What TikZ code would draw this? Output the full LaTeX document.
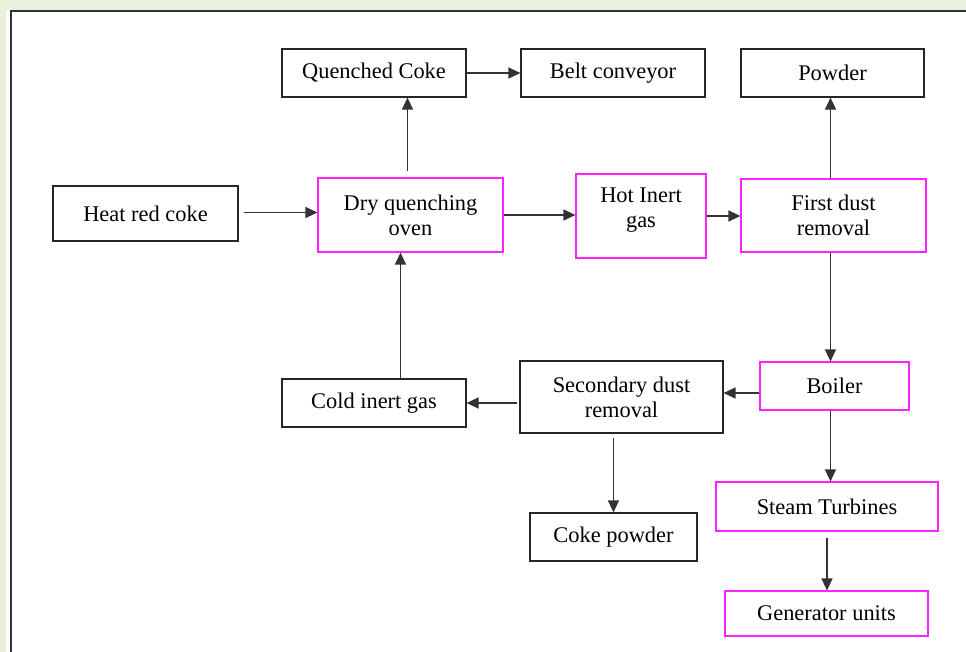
\documentclass[tikz,border=0pt]{standalone}
\usepackage{fontspec}
\setmainfont{Liberation Serif}
\usepackage{xcolor}
\usetikzlibrary{arrows.meta,positioning}
\definecolor{pagegreen}{HTML}{E9F1DC}
\definecolor{boxmagenta}{HTML}{FF22FF}
\definecolor{linegray}{HTML}{333333}

\begin{document}
\begin{tikzpicture}[x=0.5pt,y=-0.5pt,
    plainbox/.style={draw=black!85, line width=0.6pt, inner sep=0pt, align=center,
        font=\fontsize{11.2}{12.5}\selectfont},
    magbox/.style={plainbox, draw=boxmagenta},
    arr/.style={draw=linegray, line width=0.65pt, -{Triangle[length=6pt,width=5.5pt]}}]
    % Page background and frame
    \useasboundingbox (0,0) rectangle (966,652);
    \fill[pagegreen] (0,0) rectangle (966,652);
    \fill[white] (6,10) rectangle (966,652);
    \draw[black!80, line width=0.8pt] (11,652) -- (11,11) -- (966,11);

    % Top row
    \node[plainbox, minimum width=92pt, minimum height=24pt] (quenched) at (374,73) {Quenched Coke};
    \node[plainbox, minimum width=92pt, minimum height=24pt] (belt) at (613,73) {Belt conveyor};
    \node[plainbox, minimum width=91.5pt, minimum height=24pt] (powder) at (832.5,73) {Powder};

    % Middle row
    \node[plainbox, minimum width=92.5pt, minimum height=27.5pt] (heat) at (145.5,213.5) {Heat red coke};
    \node[magbox, minimum width=92.5pt, minimum height=37pt] (oven) at (410.5,215) {Dry quenching\\oven};
    \node[magbox, minimum width=65pt, minimum height=42pt, text depth=8pt] (hot) at (641,216) {Hot Inert\\gas};
    \node[magbox, minimum width=92.5pt, minimum height=36.5pt] (first) at (833.5,215.5) {First dust\\removal};

    % Lower rows
    \node[magbox, minimum width=74.5pt, minimum height=24pt] (boiler) at (834.5,386) {Boiler};
    \node[plainbox, minimum width=101.5pt, minimum height=36pt] (second) at (621.5,397) {Secondary dust\\removal};
    \node[plainbox, minimum width=92pt, minimum height=24pt] (cold) at (374,403) {Cold inert gas};
    \node[plainbox, minimum width=83.5pt, minimum height=24pt] (cokepowder) at (613.5,537) {Coke powder};
    \node[magbox, minimum width=111pt, minimum height=24.5pt] (steam) at (827,506.5) {Steam Turbines};
    \node[magbox, minimum width=101.5pt, minimum height=22.5pt] (generator) at (826.5,613.5) {Generator units};

    % Connectors
    \draw[arr, shorten <=2.5pt] ([yshift=0.5pt]heat.east) -- ([yshift=0.5pt]heat.east -| oven.west);
    \draw[arr] (oven.east) -- (oven.east -| hot.west);
    \draw[arr] (hot.east) -- (hot.east -| first.west);
    \draw[arr, shorten <=3pt] ([xshift=-1.5pt]oven.north) -- ([xshift=-1.5pt]oven.north |- quenched.south);
    \draw[arr] (quenched) -- (belt);
    \draw[arr] ([xshift=-1.5pt]first.north) -- ([xshift=-1.5pt]first.north |- powder.south);
    \draw[arr] ([xshift=-1.5pt]first.south) -- ([xshift=-1.5pt]first.south |- boiler.north);
    \draw[arr] ([yshift=-3.5pt]boiler.west) -- ([yshift=-3.5pt]boiler.west -| second.east);
    \draw[arr, shorten <=1pt] (second.west |- cold.east) -- (cold.east);
    \draw[arr] ([xshift=-5pt]oven.south |- cold.north) -- ([xshift=-5pt]oven.south);
    \draw[arr, shorten <=2pt] (cokepowder.north |- second.south) -- (cokepowder.north);
    \draw[arr] ([xshift=-2pt]boiler.south) -- ([xshift=-2pt]boiler.south |- steam.north);
    \draw[arr, shorten <=3pt] (steam.south) -- (steam.south |- generator.north);
\end{tikzpicture}
\end{document}
